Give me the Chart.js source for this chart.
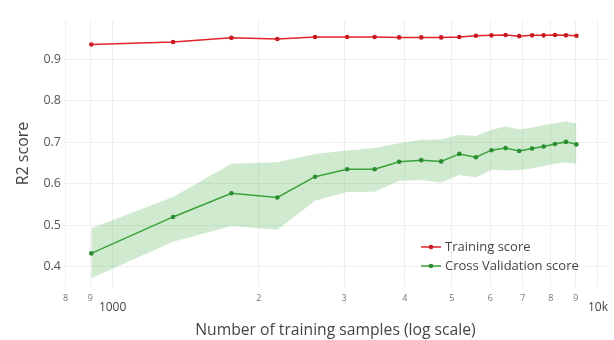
<!DOCTYPE html>
<html>
<head>
<meta charset="utf-8">
<title>Learning curve</title>
<script src="https://cdn.jsdelivr.net/npm/chart.js@4"></script>
<style>
  html, body { margin: 0; padding: 0; background: #fff; }
  canvas { display: block; }
</style>
</head>
<body>
<canvas id="chart" width="614" height="340"></canvas>
<script>
// Learning curve: training vs. cross-validation R2 over training set size
const trainSizes = [904, 1332, 1757, 2185, 2613, 3042, 3467, 3894, 4325, 4753,
                    5180, 5605, 6034, 6453, 6884, 7317, 7730, 8155, 8590, 9029];
const trainScore = [0.936, 0.942, 0.952, 0.949, 0.954, 0.954, 0.954, 0.953, 0.953, 0.953,
                    0.954, 0.957, 0.958, 0.959, 0.956, 0.958, 0.958, 0.959, 0.958, 0.957];
const cvScore    = [0.432, 0.520, 0.577, 0.567, 0.617, 0.635, 0.635, 0.653, 0.657, 0.654,
                    0.672, 0.664, 0.681, 0.686, 0.679, 0.685, 0.690, 0.696, 0.701, 0.695];
const cvUpper    = [0.493, 0.568, 0.648, 0.652, 0.672, 0.680, 0.686, 0.698, 0.706, 0.707,
                    0.718, 0.715, 0.730, 0.738, 0.731, 0.736, 0.742, 0.746, 0.750, 0.746];
const cvLower    = [0.372, 0.460, 0.498, 0.489, 0.559, 0.580, 0.581, 0.607, 0.609, 0.603,
                    0.621, 0.616, 0.633, 0.632, 0.633, 0.637, 0.643, 0.648, 0.651, 0.648];

const xTickValues = [800, 900, 1000, 2000, 3000, 4000, 5000, 6000, 7000, 8000, 9000, 10000];
const xTickLabels = ['8', '9', '1000', '2', '3', '4', '5', '6', '7', '8', '9', '10k'];
const xMajorValues = [1000, 10000];
const yTickValues = [0.4, 0.5, 0.6, 0.7, 0.8, 0.9];

const FONT = "'Open Sans', 'Noto Sans', sans-serif";
Chart.defaults.font.family = FONT;

const toPoints = ys => trainSizes.map((x, i) => ({ x: x, y: ys[i] }));
const isMajor = v => xMajorValues.includes(v);

// Legend drawn inside the plot, line-with-marker symbols
const insideLegend = {
  id: 'insideLegend',
  afterDraw(chart, args, opts) {
    const ctx = chart.ctx;
    ctx.save();
    opts.items.forEach((dsIndex, i) => {
      const ds = chart.data.datasets[dsIndex];
      const y = opts.y + i * opts.rowHeight;
      const x0 = opts.x;
      ctx.strokeStyle = ds.borderColor;
      ctx.lineWidth = 1.5;
      ctx.beginPath();
      ctx.moveTo(x0, y);
      ctx.lineTo(x0 + opts.lineLength, y);
      ctx.stroke();
      ctx.fillStyle = ds.pointBackgroundColor;
      ctx.beginPath();
      ctx.arc(x0 + opts.lineLength / 2, y, 2.3, 0, Math.PI * 2);
      ctx.fill();
      ctx.fillStyle = '#444';
      ctx.font = '13px ' + FONT;
      ctx.textBaseline = 'middle';
      ctx.textAlign = 'left';
      ctx.fillText(ds.label, x0 + opts.lineLength + 4, y);
    });
    ctx.restore();
  }
};

new Chart(document.getElementById('chart'), {
  type: 'line',
  data: {
    datasets: [
      {
        label: 'Training score',
        data: toPoints(trainScore),
        borderColor: 'rgb(226,34,40)',
        backgroundColor: 'rgb(226,34,40)',
        pointBackgroundColor: 'rgb(200,26,34)',
        pointBorderWidth: 0,
        pointRadius: 2.3,
        borderWidth: 1.5,
        fill: false
      },
      {
        label: 'Cross Validation score',
        data: toPoints(cvScore),
        borderColor: 'rgb(58,162,58)',
        backgroundColor: 'rgb(58,162,58)',
        pointBackgroundColor: 'rgb(44,140,48)',
        pointBorderWidth: 0,
        pointRadius: 2.3,
        borderWidth: 1.5,
        fill: false
      },
      {
        label: 'cv upper',
        data: toPoints(cvUpper),
        borderWidth: 0,
        borderColor: 'rgba(0,0,0,0)',
        pointRadius: 0,
        fill: false
      },
      {
        label: 'cv lower',
        data: toPoints(cvLower),
        borderWidth: 0,
        borderColor: 'rgba(0,0,0,0)',
        pointRadius: 0,
        backgroundColor: 'rgba(70,175,70,0.26)',
        fill: '-1'
      }
    ]
  },
  options: {
    responsive: false,
    animation: false,
    devicePixelRatio: 1,
    layout: { padding: { top: 20, right: 3, left: 0, bottom: 0 } },
    elements: { line: { tension: 0 } },
    plugins: {
      legend: { display: false },
      tooltip: { enabled: false },
      insideLegend: { items: [0, 1], x: 421, y: 247, rowHeight: 19, lineLength: 20 }
    },
    scales: {
      x: {
        type: 'logarithmic',
        min: 794,
        max: 10433,
        afterBuildTicks: scale => { scale.ticks = xTickValues.map(v => ({ value: v })); },
        afterFit: scale => { scale.height = 53; },
        grid: { color: '#efefef', lineWidth: 1, drawTicks: false },
        border: { display: false },
        ticks: {
          autoSkip: false,
          maxRotation: 0,
          padding: 6,
          callback: (value, index) => isMajor(value) ? ['', xTickLabels[index]] : xTickLabels[index],
          font: ctx => (ctx.tick && isMajor(ctx.tick.value))
            ? { size: 12, lineHeight: '10px' }
            : { size: 9 },
          color: ctx => (ctx.tick && isMajor(ctx.tick.value)) ? '#444' : '#777'
        },
        title: {
          display: true,
          text: 'Number of training samples (log scale)',
          color: '#444',
          font: { size: 15.7 },
          padding: { top: 0, bottom: 0 }
        }
      },
      y: {
        type: 'linear',
        min: 0.351,
        max: 0.995,
        afterBuildTicks: scale => { scale.ticks = yTickValues.map(v => ({ value: v })); },
        afterFit: scale => { scale.width = 64; },
        grid: { color: '#efefef', lineWidth: 1, drawTicks: false },
        border: { display: false },
        ticks: {
          padding: 3,
          color: '#555',
          font: { size: 12.5 },
          callback: v => v.toFixed(1)
        },
        title: {
          display: true,
          text: 'R2 score',
          color: '#444',
          font: { size: 16 },
          padding: { top: 14, bottom: 0 }
        }
      }
    }
  },
  plugins: [insideLegend]
});
</script>
</body>
</html>
